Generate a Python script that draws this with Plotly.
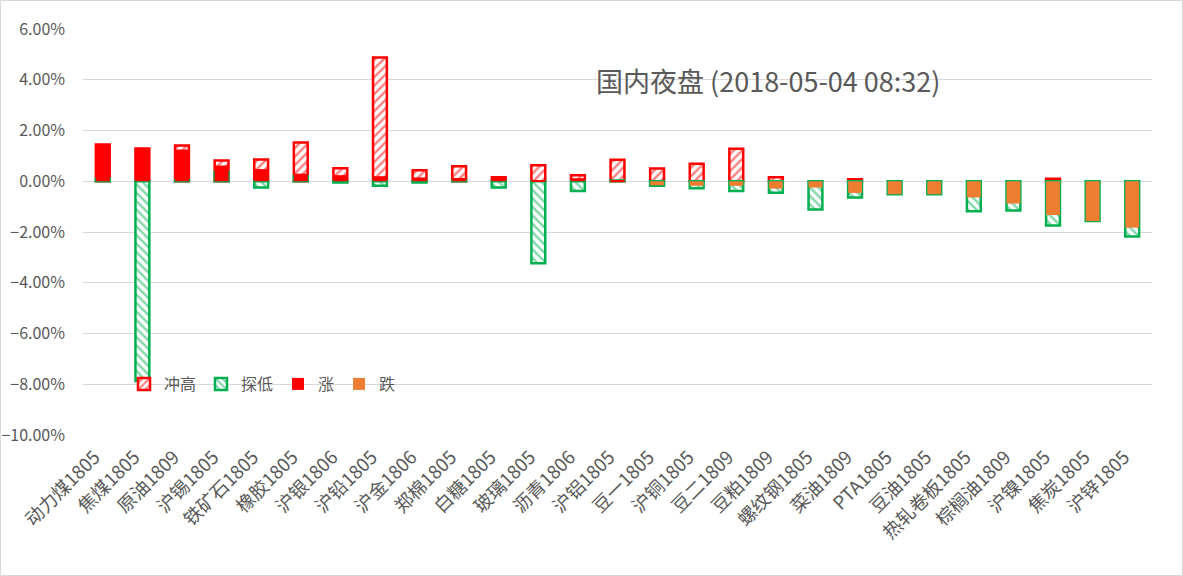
import plotly.graph_objects as go

categories = ["动力煤1805", "焦煤1805", "原油1809", "沪锡1805", "铁矿石1805", "橡胶1805",
              "沪银1806", "沪铅1805", "沪金1806", "郑棉1805", "白糖1805", "玻璃1805",
              "沥青1806", "沪铝1805", "豆一1805", "沪铜1805", "豆二1809", "豆粕1809",
              "螺纹钢1805", "菜油1809", "PTA1805", "豆油1805", "热轧卷板1805", "棕榈油1809",
              "沪镍1805", "焦炭1805", "沪锌1805"]

high = [1.45, 1.29, 1.41, 0.82, 0.86, 1.53, 0.51, 4.88, 0.43, 0.59, 0.16, 0.63, 0.24, 0.85,
        0.50, 0.69, 1.28, 0.16, 0.0, 0.08, 0.0, 0.0, 0.0, 0.0, 0.10, 0.0, 0.0]
low = [0.10, -7.87, 0.04, 0.37, -0.25, 0.20, -0.05, -0.18, -0.05, 0.02, -0.25, -3.23, -0.38, 0.03,
       -0.18, -0.28, -0.38, -0.45, -1.11, -0.64, -0.51, -0.51, -1.18, -1.15, -1.74, -1.57, -2.18]
close = [1.45, 1.29, 1.25, 0.62, 0.48, 0.30, 0.24, 0.20, 0.15, 0.13, 0.15, 0.03, 0.12, 0.03,
         -0.16, -0.18, -0.18, -0.29, -0.25, -0.46, -0.51, -0.51, -0.64, -0.88, -1.33, -1.57, -1.83]

title_text = "国内夜盘 (2018-05-04 08:32)"

RED = "#FF0000"
GREEN = "#00B050"
ORANGE = "#ED7D31"
TXT = "#595959"
FONT = "Noto Sans CJK SC"

up = [c if c > 0 else None for c in close]
down = [c if c < 0 else None for c in close]
high_v = [h if h != 0 else None for h in high]

fig = go.Figure()
fig.add_trace(go.Bar(
    x=categories, y=high_v, name="冲高",
    marker=dict(color="white", line=dict(color=RED, width=2.5),
                pattern=dict(shape="/", fgcolor=RED, bgcolor="white", size=6, solidity=0.4)),
))
fig.add_trace(go.Bar(
    x=categories, y=low, name="探低",
    marker=dict(color="white", line=dict(color=GREEN, width=2.5),
                pattern=dict(shape="\\", fgcolor=GREEN, bgcolor="white", size=6, solidity=0.4)),
))
fig.add_trace(go.Bar(
    x=categories, y=up, name="涨",
    marker=dict(color=RED, line=dict(width=0)),
))
fig.add_trace(go.Bar(
    x=categories, y=down, name="跌",
    marker=dict(color=ORANGE, line=dict(width=0)),
))

L, R, T, B = 83, 31, 29, 141
W, H = 1183, 576
pw = W - L - R
ph = H - T - B

fig.update_layout(
    width=W, height=H,
    margin=dict(l=L, r=R, t=T, b=B, autoexpand=False),
    barmode="overlay", bargap=0.65,
    paper_bgcolor="white", plot_bgcolor="white",
    font=dict(family=FONT, color=TXT, size=16),
    showlegend=True,
    legend=dict(orientation="h", x=(124 - L) / pw, y=(H - B - 384) / ph,
                xanchor="left", yanchor="middle", bgcolor="rgba(0,0,0,0)",
                font=dict(size=16, color=TXT, family=FONT), traceorder="normal",
                itemwidth=30),
    xaxis=dict(tickangle=-45, showgrid=False, showline=False, ticks="", automargin=False,
               ticklabelshift=-8, ticklabelstandoff=7,
               tickfont=dict(size=18.5, color=TXT, family=FONT)),
    yaxis=dict(range=[-10, 6], dtick=2, tickformat=".2f", ticksuffix="%",
               showgrid=True, gridcolor="#D9D9D9", gridwidth=1,
               zeroline=True, zerolinecolor="#D9D9D9", zerolinewidth=1,
               showline=False, ticks="", ticklabelstandoff=17, automargin=False,
               tickfont=dict(size=16, color=TXT, family=FONT)),
    annotations=[dict(text=title_text, xref="paper", yref="paper",
                      x=(594 - L) / pw, y=(H - B - 80) / ph, xanchor="left", yanchor="middle",
                      showarrow=False, font=dict(size=27, color=TXT, family=FONT))],
    shapes=[dict(type="rect", xref="paper", yref="paper",
                 x0=(0.5 - L) / pw, x1=(W - 0.5 - L) / pw,
                 y0=(H - B - (H - 0.5)) / ph, y1=(H - B - 0.5) / ph,
                 line=dict(color="#D9D9D9", width=1), layer="below")],
)

fig.write_html("out.html", config={"displayModeBar": False},
               post_script="document.body.style.margin='0';document.body.style.padding='0';")
